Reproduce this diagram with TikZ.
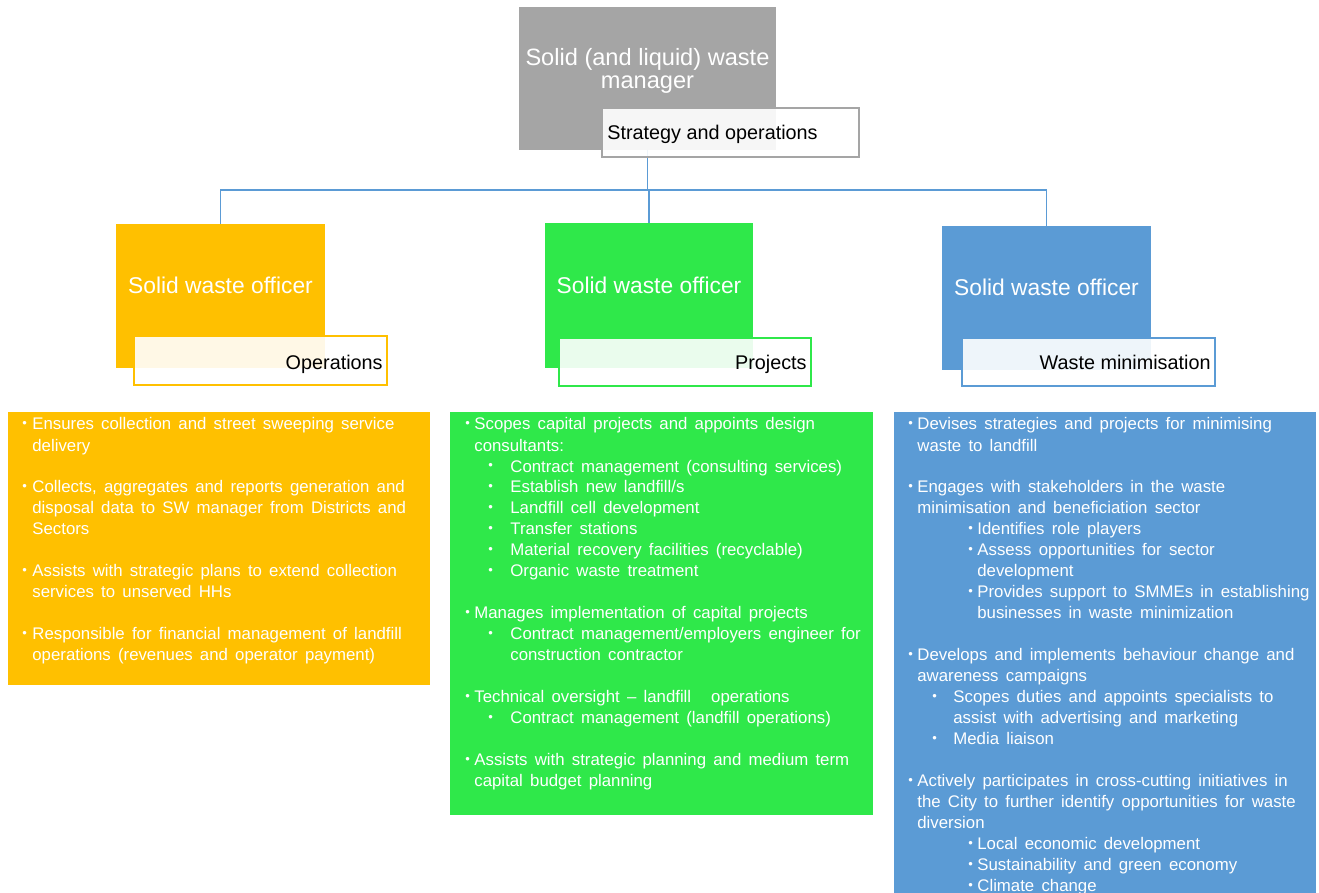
\documentclass[tikz,border=0pt]{standalone}
\usepackage{fontspec}
\setmainfont{Liberation Sans}
\usetikzlibrary{fit}

\definecolor{mgrgrey}{HTML}{A5A5A5}
\definecolor{opsorange}{HTML}{FFC000}
\definecolor{projgreen}{HTML}{2FE84A}
\definecolor{minblue}{HTML}{5B9BD5}

% list helpers: bullet line, continuation line, blank line
\newcommand{\dotmark}{\raisebox{1.1pt}{\fontsize{6.5}{6.5}\selectfont\textbullet}}
\newcommand{\bitem}[3]{\par\hspace*{#1pt}\makebox[#2pt][l]{\dotmark}#3}
\newcommand{\bcont}[2]{\par\hspace*{#1pt}#2}
\newcommand{\bgap}{\par\vspace{10.5pt}}

\begin{document}
\begin{tikzpicture}[x=0.5pt,y=-0.5pt,
  box/.style={inner sep=0pt, outer sep=0pt, draw=none},
  tag/.style={inner sep=0pt, outer sep=0pt, fill=white, fill opacity=0.9, draw=#1, line width=0.75pt},
  head/.style={text=white, inner sep=0pt, font=\fontsize{11.4}{13.7}\selectfont},
  tagtext/.style={text=black, inner sep=0pt, font=\fontsize{9.9}{11.8}\selectfont},
  body/.style={text=white, inner sep=0pt, font=\fontsize{8.4}{10.5}\selectfont},
  conn/.style={draw=minblue, line width=0.75pt}]
\useasboundingbox (0,0) rectangle (1319,893);

% manager and officer boxes
\node[box, fill=mgrgrey, fit={(519,7)(776,150)}] (mgr) {};
\node[head, align=center, font=\fontsize{11.8}{11.5}\selectfont] (mgrtxt) at (647.5,71.3)
  {Solid (and liquid) waste\\manager};

\node[box, fill=opsorange, fit={(116,224)(325,368)}] (off1) {};
\node[box, fill=projgreen, fit={(545,223)(753,368)}] (off2) {};
\node[box, fill=minblue, fit={(942,226)(1151,370)}] (off3) {};

% reporting lines
\draw[conn] (mgr.south) -- ++(0,40) -| (off1.north);
\draw[conn] (mgr.south) -- ++(0,40) -| (off2.north);
\draw[conn] (mgr.south) -- ++(0,40) -| (off3.north);

\node[head, anchor=base] (off1txt) at (220.5,294) {Solid waste officer};
\node[head, anchor=base] (off2txt) at (649,294) {Solid waste officer};
\node[head, anchor=base] (off3txt) at (1046.5,296) {Solid waste officer};

% role tags
\node[tag=mgrgrey, fit={(602,108)(859,157)}] (mgrtag) {};
\node[tagtext, anchor=base west] (mgrtagtxt) at (607,139.5) {Strategy and operations};
\node[tag=opsorange, fit={(134,336)(387,385)}] (tag1) {};
\node[tagtext, anchor=base east] (tag1txt) at (383,369.5) {Operations};
\node[tag=projgreen, fit={(559,338)(811,386)}] (tag2) {};
\node[tagtext, anchor=base east] (tag2txt) at (807,370) {Projects};
\node[tag=minblue, fit={(962,338)(1215,386)}] (tag3) {};
\node[tagtext, anchor=base east] (tag3txt) at (1211,369.5) {Waste minimisation};

% duty lists
\node[box, fill=opsorange, fit={(8,412)(430,685)}] (det1) {};
\node[box, fill=projgreen, fit={(450,412)(873,815)}] (det2) {};
\node[box, fill=minblue, fit={(894,412)(1316,905)}] (det3) {};

\node[body, anchor=base west] (det1txt) at (22,430) {\begin{minipage}[t]{250pt}\spaceskip=0.43em
\bitem{0}{5}{Ensures collection and street sweeping service}
\bcont{5}{delivery}
\bgap
\bitem{0}{5}{Collects, aggregates and reports generation and}
\bcont{5}{disposal data to SW manager from Districts and}
\bcont{5}{Sectors}
\bgap
\bitem{0}{5}{Assists with strategic plans to extend collection}
\bcont{5}{services to unserved HHs}
\bgap
\bitem{0}{5}{Responsible for financial management of landfill}
\bcont{5}{operations (revenues and operator payment)}
\end{minipage}};

\node[body, anchor=base west] (det2txt) at (465,430) {\begin{minipage}[t]{250pt}\spaceskip=0.43em
\bitem{0}{4.5}{Scopes capital projects and appoints design}
\bcont{4.5}{consultants:}
\bitem{11.5}{11}{Contract management (consulting services)}
\bitem{11.5}{11}{Establish new landfill/s}
\bitem{11.5}{11}{Landfill cell development}
\bitem{11.5}{11}{Transfer stations}
\bitem{11.5}{11}{Material recovery facilities (recyclable)}
\bitem{11.5}{11}{Organic waste treatment}
\bgap
\bitem{0}{4.5}{Manages implementation of capital projects}
\bitem{11.5}{11}{Contract management/employers engineer for}
\bcont{22.5}{construction contractor}
\bgap
\bitem{0}{4.5}{Technical oversight – landfill\hspace{10pt}operations}
\bitem{11.5}{11}{Contract management (landfill operations)}
\bgap
\bitem{0}{4.5}{Assists with strategic planning and medium term}
\bcont{4.5}{capital budget planning}
\end{minipage}};

\node[body, anchor=base west] (det3txt) at (908,430) {\begin{minipage}[t]{250pt}\spaceskip=0.43em
\bitem{0}{4.5}{Devises strategies and projects for minimising}
\bcont{4.5}{waste to landfill}
\bgap
\bitem{0}{4.5}{Engages with stakeholders in the waste}
\bcont{4.5}{minimisation and beneficiation sector}
\bitem{30}{4.5}{Identifies role players}
\bitem{30}{4.5}{Assess opportunities for sector}
\bcont{34.5}{development}
\bitem{30}{4.5}{Provides support to SMMEs in establishing}
\bcont{34.5}{businesses in waste minimization}
\bgap
\bitem{0}{4.5}{Develops and implements behaviour change and}
\bcont{4.5}{awareness campaigns}
\bitem{12}{10.5}{Scopes duties and appoints specialists to}
\bcont{22.5}{assist with advertising and marketing}
\bitem{12}{10.5}{Media liaison}
\bgap
\bitem{0}{4.5}{Actively participates in cross-cutting initiatives in}
\bcont{4.5}{the City to further identify opportunities for waste}
\bcont{4.5}{diversion}
\bitem{30}{4.5}{Local economic development}
\bitem{30}{4.5}{Sustainability and green economy}
\bitem{30}{4.5}{Climate change}
\end{minipage}};
\end{tikzpicture}
\end{document}
